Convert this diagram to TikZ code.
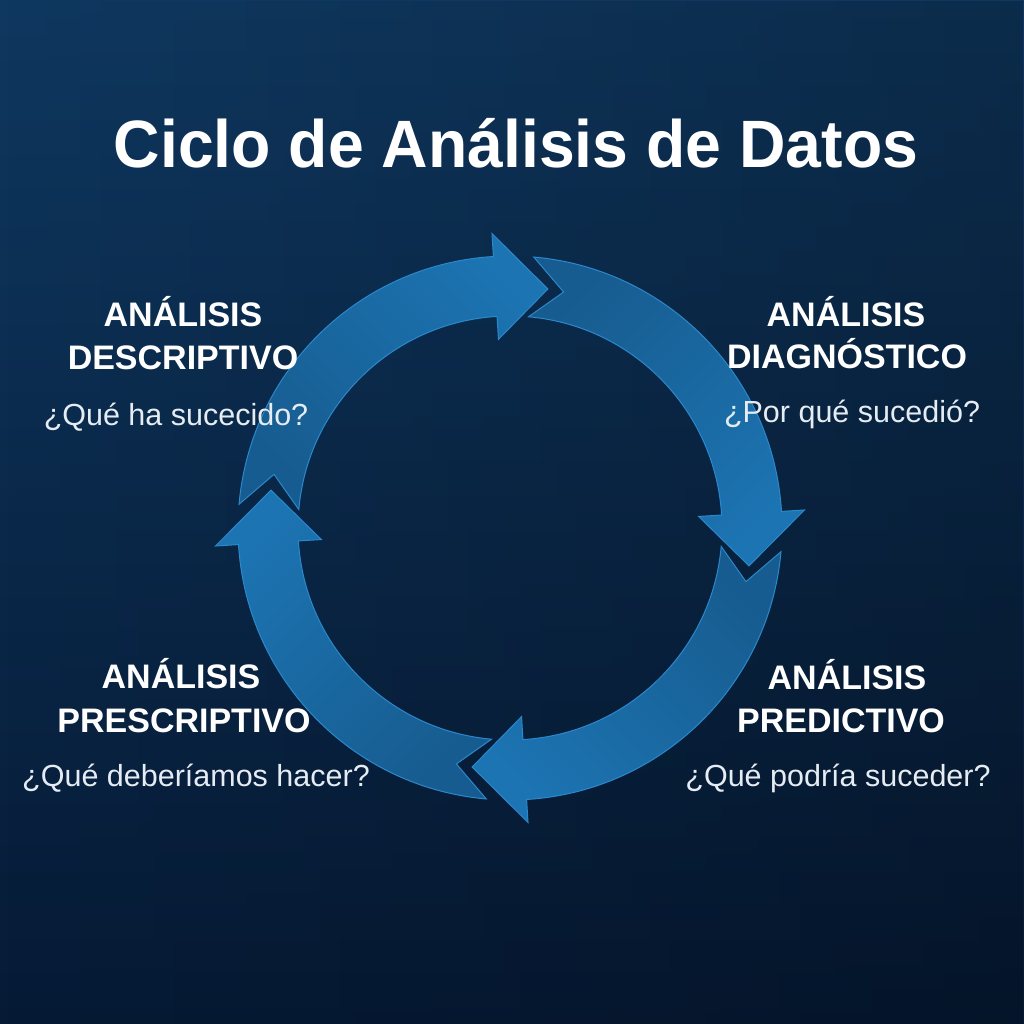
\documentclass[tikz,border=0pt]{standalone}
\usepackage{fontspec}
\setmainfont{Liberation Sans}
\usetikzlibrary{fadings}
\definecolor{bgtop}{HTML}{0F3860}
\definecolor{bgbot}{HTML}{061A35}
\definecolor{arrowdark}{HTML}{175C90}
\definecolor{arrowlight}{HTML}{1C74B2}
\definecolor{arrowedge}{HTML}{2A88CC}
\definecolor{qtext}{HTML}{E6ECF3}
\begin{document}
\begin{tikzpicture}[x=1pt,y=1pt,
  heading/.style={font=\fontsize{34}{34}\selectfont\bfseries, text=white, anchor=base, inner sep=0pt},
  question/.style={font=\fontsize{30.5}{30.5}\selectfont, text=qtext, anchor=base, inner sep=0pt},
  cyclearrow/.style={draw=arrowedge, line width=1pt, top color=arrowlight, bottom color=arrowdark, line join=miter}]
\useasboundingbox (0,0) rectangle (1024,1024);
\shade[top color=bgtop, bottom color=bgbot] (0,0) rectangle (1024,1024);
\fill[black, opacity=0.22, path fading=west] (0,0) rectangle (1024,1024);
% cycle arrows
\begin{scope}[shift={(510,496)}]
\foreach \k/\sa in {0/-45,1/-135,2/135,3/45} {
  \pgfmathsetmacro\ta{175-90*\k}
  \pgfmathsetmacro\na{167.2-90*\k}
  \pgfmathsetmacro\ba{93.5-90*\k}
  \pgfmathsetmacro\pa{81-90*\k}
  \path[cyclearrow, shading angle=\sa]
    (\ta:272) arc[start angle=\ta, end angle=\ba, radius=272]
    -- (\ba:295) -- (\pa:242) -- (\ba:189) -- (\ba:212)
    arc[start angle=\ba, end angle=\ta, radius=212]
    -- (\na:242) -- cycle;
}
\end{scope}
% title
\node[anchor=base, text=white, font=\fontsize{67}{67}\selectfont\bfseries, inner sep=0pt] (title) at (516,856) {\scalebox{0.96}[1]{Ciclo de Análisis de Datos}};
% top left
\node[heading] (tl1) at (183,697) {ANÁLISIS};
\node[heading] (tl2) at (183,654) {DESCRIPTIVO};
\node[question] (tlq) at (176,598) {¿Qué ha sucecido?};
% top right
\node[heading] (tr1) at (846,697) {ANÁLISIS};
\node[heading] (tr2) at (847,655) {DIAGNÓSTICO};
\node[question] (trq) at (852,601) {¿Por qué sucedió?};
% bottom left
\node[heading] (bl1) at (181,335) {ANÁLISIS};
\node[heading] (bl2) at (184,291) {PRESCRIPTIVO};
\node[question] (blq) at (196,237) {¿Qué deberíamos hacer?};
% bottom right
\node[heading] (br1) at (847,334) {ANÁLISIS};
\node[heading] (br2) at (841,291) {PREDICTIVO};
\node[question] (brq) at (838,237) {¿Qué podría suceder?};
\end{tikzpicture}
\end{document}
